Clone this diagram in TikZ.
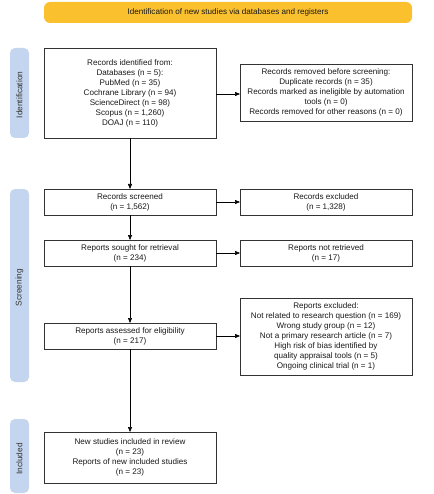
\documentclass[tikz,border=0pt]{standalone}
\usepackage{fontspec}
\setmainfont{Liberation Sans}
\usetikzlibrary{arrows.meta}
\definecolor{banner}{HTML}{FBC02D}
\definecolor{band}{HTML}{C3D5EF}
\definecolor{edge}{HTML}{333333}
\begin{document}
\begin{tikzpicture}[x=1pt,y=-1pt,
  box/.style={draw=edge,line width=0.7pt,fill=white},
  txt/.style={align=center,font=\fontsize{8.1}{10}\selectfont,inner sep=0pt,text=black!90},
  bandbox/.style={fill=band,rounded corners=5pt},
  bandtxt/.style={rotate=90,font=\fontsize{8.3}{9}\selectfont,text=black!80},
  arr/.style={-{Triangle[length=5pt,width=4pt]},draw=black,line width=0.6pt}]
\useasboundingbox (0,0) rectangle (433,494);
% banner
\fill[banner,rounded corners=6pt] (44,2) rectangle (412,23);
\node[txt] (ban) at (228,12.5) {Identification of new studies via databases and registers};
% side bands
\fill[bandbox] (10,48) rectangle (29,138);
\node[bandtxt] (b1) at (19.5,95) {Identification};
\fill[bandbox] (10,189) rectangle (29,382);
\node[bandtxt] (b2) at (19.5,287.5) {Screening};
\fill[bandbox] (10,419) rectangle (29,493);
\node[bandtxt] (b3) at (19.5,459) {Included};
% boxes
\draw[box] (44,48) rectangle (216,138);
\node[txt] (ident) at (130,93) {Records identified from:\\Databases (n = 5):\\PubMed (n = 35)\\Cochrane Library (n = 94)\\ScienceDirect (n = 98)\\Scopus (n = 1,260)\\DOAJ (n = 110)};
\coordinate (identS) at (130,138);
\coordinate (identE) at (216,94);
\draw[box] (240,64) rectangle (412,121);
\node[txt] (removed) at (326,92.5) {Records removed before screening:\\Duplicate records (n = 35)\\Records marked as ineligible by automation\\tools (n = 0)\\Records removed for other reasons (n = 0)};
\coordinate (removedW) at (240,94);

\draw[box] (44,189) rectangle (216,215);
\node[txt] (screened) at (130,202) {Records screened\\(n = 1,562)};
\coordinate (screenedN) at (130,189);
\coordinate (screenedS) at (130,215);
\coordinate (screenedE) at (216,202);
\draw[box] (240,189) rectangle (412,215);
\node[txt] (excl) at (326,202) {Records excluded\\(n = 1,328)};
\coordinate (exclW) at (240,202);

\draw[box] (44,240) rectangle (216,266);
\node[txt] (sought) at (130,253) {Reports sought for retrieval\\(n = 234)};
\coordinate (soughtN) at (130,240);
\coordinate (soughtS) at (130,266);
\coordinate (soughtE) at (216,253);
\draw[box] (240,240) rectangle (412,266);
\node[txt] (notret) at (326,253) {Reports not retrieved\\(n = 17)};
\coordinate (notretW) at (240,253);

\draw[box] (44,323) rectangle (216,349);
\node[txt] (assessed) at (130,336) {Reports assessed for eligibility\\(n = 217)};
\coordinate (assessedN) at (130,323);
\coordinate (assessedS) at (130,349);
\coordinate (assessedE) at (216,336);
\draw[box] (240,298) rectangle (412,375);
\node[txt] (repexcl) at (326,336.5) {Reports excluded:\\Not related to research question (n = 169)\\Wrong study group (n = 12)\\Not a primary research article (n = 7)\\High risk of bias identified by\\quality appraisal tools (n = 5)\\Ongoing clinical trial (n = 1)};
\coordinate (repexclW) at (240,336);

\draw[box] (44,432) rectangle (216,483);
\node[txt] (incl) at (130,457.5) {New studies included in review\\(n = 23)\\Reports of new included studies\\(n = 23)};
\coordinate (inclN) at (130,432);
% arrows
\draw[arr] (identE) -- (removedW);
\draw[arr] (identS) -- (screenedN);
\draw[arr] (screenedE) -- (exclW);
\draw[arr] (screenedS) -- (soughtN);
\draw[arr] (soughtE) -- (notretW);
\draw[arr] (soughtS) -- (assessedN);
\draw[arr] (assessedE) -- (repexclW);
\draw[arr] (assessedS) -- (inclN);
\end{tikzpicture}
\end{document}
